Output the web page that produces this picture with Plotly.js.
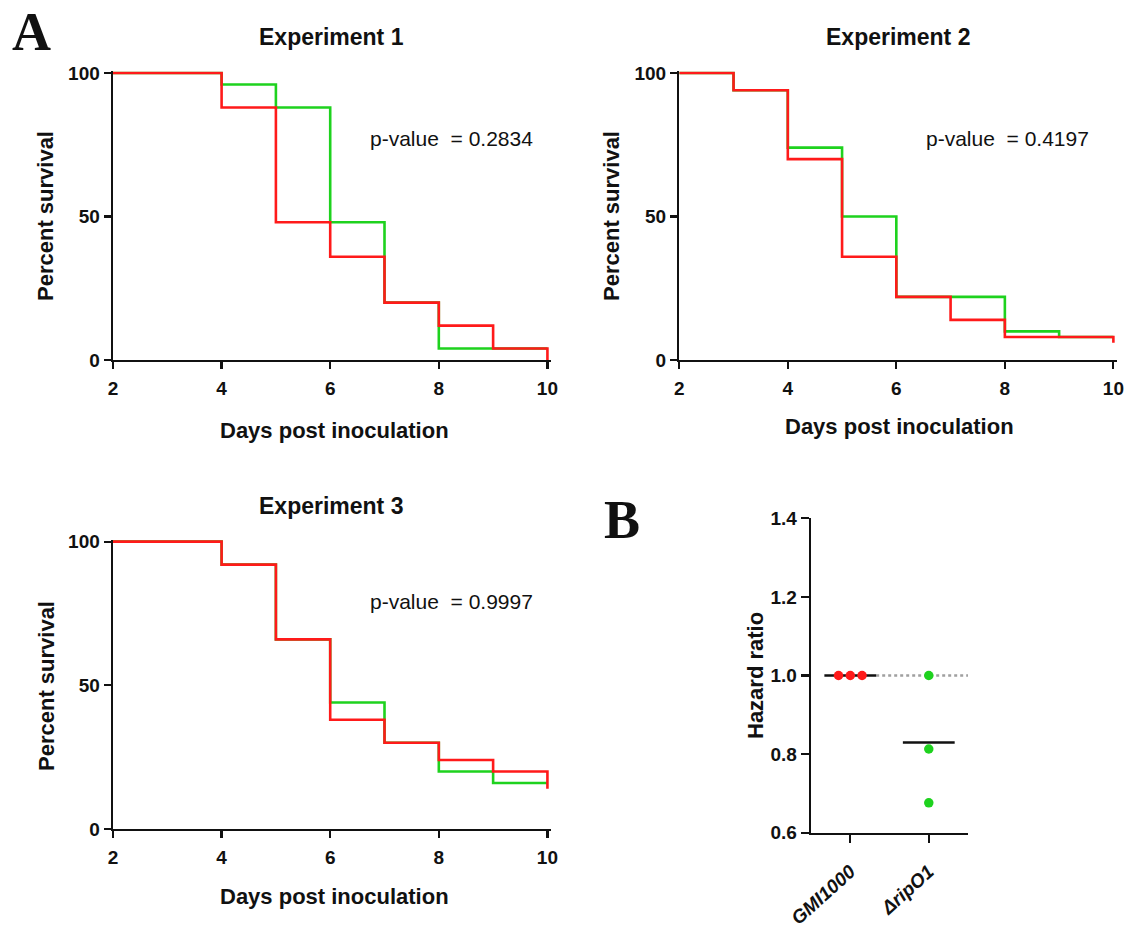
<!DOCTYPE html>
<html>
<head>
<meta charset="utf-8">
<script src="https://cdn.plot.ly/plotly-3.0.1.min.js"></script>
<style>html,body{margin:0;padding:0;background:#fff;}#chart{width:1131px;height:942px;}</style>
</head>
<body>
<div id="chart"></div>
<script>
// ---- Data ----
const exp1Days = [2, 4, 5, 6, 7, 8, 9, 10];
const exp1GMI  = [100, 88, 48, 36, 20, 12, 4, 0];
const exp1Rip  = [100, 96, 88, 48, 20, 4, 4, 4];

const exp2Days = [2, 3, 4, 5, 6, 7, 8, 9, 10];
const exp2GMI  = [100, 94, 70, 36, 22, 14, 8, 8, 6];
const exp2Rip  = [100, 94, 74, 50, 22, 22, 10, 8, 8];

const exp3Days = [2, 4, 5, 6, 7, 8, 9, 10];
const exp3GMI  = [100, 92, 66, 38, 30, 24, 20, 14];
const exp3Rip  = [100, 92, 66, 44, 30, 20, 16, 16];

const pValues = ["0.2834", "0.4197", "0.9997"];
const expTitles = ["Experiment 1", "Experiment 2", "Experiment 3"];

const strains = ["GMI1000", "ΔripO1"];
const hazardGMI = [1.0, 1.0, 1.0];
const hazardRip = [1.0, 0.813, 0.676];

const xTicks = [2, 4, 6, 8, 10];
const yTicks = [0, 50, 100];
const hrTicks = [0.6, 0.8, 1.0, 1.2, 1.4];

// ---- Styles ----
const RED = '#ff1a1a';
const GREEN = '#1ed21e';
const FONT = 'Liberation Sans, Arial, sans-serif';

const traces = [];
function km(days, vals, color, xa, ya) {
  traces.push({x: days, y: vals, mode: 'lines', line: {shape: 'hv', color: color, width: 2.6},
    xaxis: xa, yaxis: ya, showlegend: false, hoverinfo: 'skip'});
}
km(exp1Days, exp1Rip, GREEN, 'x', 'y');
km(exp1Days, exp1GMI, RED, 'x', 'y');
km(exp2Days, exp2Rip, GREEN, 'x2', 'y2');
km(exp2Days, exp2GMI, RED, 'x2', 'y2');
km(exp3Days, exp3Rip, GREEN, 'x3', 'y3');
km(exp3Days, exp3GMI, RED, 'x3', 'y3');

// Hazard ratio scatter: spread identical values horizontally
function spread(vals, center) {
  const out = [];
  vals.forEach((v, i) => {
    const same = vals.filter(w => w === v).length;
    const idx = vals.slice(0, i).filter(w => w === v).length;
    out.push(center + (idx - (same - 1) / 2) * 0.15);
  });
  return out;
}
const mean = a => a.reduce((s, v) => s + v, 0) / a.length;
const groups = [[hazardGMI, RED], [hazardRip, GREEN]];

const shapes = [];
// dotted reference line at HR = 1
shapes.push({type: 'line', xref: 'x4', yref: 'y4', x0: 0.33, x1: 1.5, y0: 1, y1: 1,
  line: {color: '#a0a0a0', width: 2.5, dash: 'dot'}, layer: 'below'});
groups.forEach(([vals, color], g) => {
  const m = mean(vals);
  shapes.push({type: 'line', xref: 'x4', yref: 'y4', x0: g - 0.33, x1: g + 0.33, y0: m, y1: m,
    line: {color: '#111', width: 2.6}, layer: 'below'});
  traces.push({x: spread(vals, g), y: vals, mode: 'markers', marker: {color: color, size: 9.5},
    xaxis: 'x4', yaxis: 'y4', showlegend: false, hoverinfo: 'skip', cliponaxis: false});
});

// ---- Axes ----
const tickFont = {family: FONT, size: 19, weight: 'bold', color: '#111'};
function baseAxis(extra) {
  return Object.assign({showline: true, linecolor: '#111', linewidth: 2.4, ticks: 'outside',
    ticklen: 7, tickwidth: 2.2, tickcolor: '#111', showgrid: false, zeroline: false,
    tickfont: tickFont, fixedrange: true}, extra);
}
const yTop = 100.6, xRight = 10.06;
const layout = {
  width: 1131, height: 942,
  margin: {l: 0, r: 0, t: 0, b: 0},
  paper_bgcolor: '#fff', plot_bgcolor: 'rgba(0,0,0,0)',
  showlegend: false,
  xaxis:  baseAxis({domain: [0.0999, 0.4869], range: [2, xRight], tickvals: xTicks, anchor: 'y', ticklabelstandoff: 3}),
  yaxis:  baseAxis({domain: [0.6178, 0.9243], range: [0, yTop], tickvals: yTicks, anchor: 'x', ticklabelstandoff: 0}),
  xaxis2: baseAxis({domain: [0.6006, 0.9873], range: [2, xRight], tickvals: xTicks, anchor: 'y2', ticklabelstandoff: 3}),
  yaxis2: baseAxis({domain: [0.6178, 0.9243], range: [0, yTop], tickvals: yTicks, anchor: 'x2', ticklabelstandoff: 0}),
  xaxis3: baseAxis({domain: [0.0999, 0.4869], range: [2, xRight], tickvals: xTicks, anchor: 'y3', ticklabelstandoff: 3}),
  yaxis3: baseAxis({domain: [0.1200, 0.4268], range: [0, yTop], tickvals: yTicks, anchor: 'x3', ticklabelstandoff: 0}),
  xaxis4: baseAxis({domain: [0.7171, 0.8559], range: [-0.5, 1.5], tickvals: [0, 1], ticktext: strains,
    tickangle: -42, anchor: 'y4', ticklen: 8, ticklabelstandoff: 10,
    tickfont: {family: FONT, size: 19, weight: 'bold', style: 'italic', color: '#111'}}),
  yaxis4: baseAxis({domain: [0.1160, 0.4498], range: [0.6, 1.4], tickvals: hrTicks, tickformat: '.1f',
    anchor: 'x4', ticklen: 8, ticklabelstandoff: 0}),
  shapes: shapes,
  annotations: []
};

const ann = layout.annotations;
function txt(text, xpx, ypx, opts) {
  ann.push(Object.assign({text: text, xref: 'paper', yref: 'paper', x: xpx / 1131, y: 1 - ypx / 942,
    showarrow: false, xanchor: 'center', yanchor: 'middle',
    font: {family: FONT, size: 22, color: '#111', weight: 'bold'}}, opts || {}));
}
const serif = {family: 'Liberation Serif, Times New Roman, serif', size: 54, weight: 'bold', color: '#111'};
// panel letters
txt('A', 31, 0, {font: serif, yanchor: 'top'});
txt('B', 622, 520, {font: serif});
// experiment titles
const titleFont = {family: FONT, size: 23, weight: 'bold', color: '#111'};
txt(expTitles[0], 331, 37, {font: titleFont});
txt(expTitles[1], 898, 37, {font: titleFont});
txt(expTitles[2], 331, 506, {font: titleFont});
// axis titles
txt('Percent survival', 46, 216, {textangle: -90});
txt('Percent survival', 612, 216, {textangle: -90});
txt('Percent survival', 46, 686, {textangle: -90});
txt('Days post inoculation', 334, 430);
txt('Days post inoculation', 899, 426);
txt('Days post inoculation', 334, 896);
txt('Hazard ratio', 755, 676, {textangle: -90});
// p-values
const pPos = [[368, 139], [924, 139], [368, 601]];
pValues.forEach((p, i) => {
  txt('p-value  = ' + p, pPos[i][0], pPos[i][1],
    {xanchor: 'left', font: {family: FONT, size: 21, color: '#111', weight: 'normal'}});
});

Plotly.newPlot('chart', traces, layout, {staticPlot: true, displayModeBar: false});
</script>
</body>
</html>
